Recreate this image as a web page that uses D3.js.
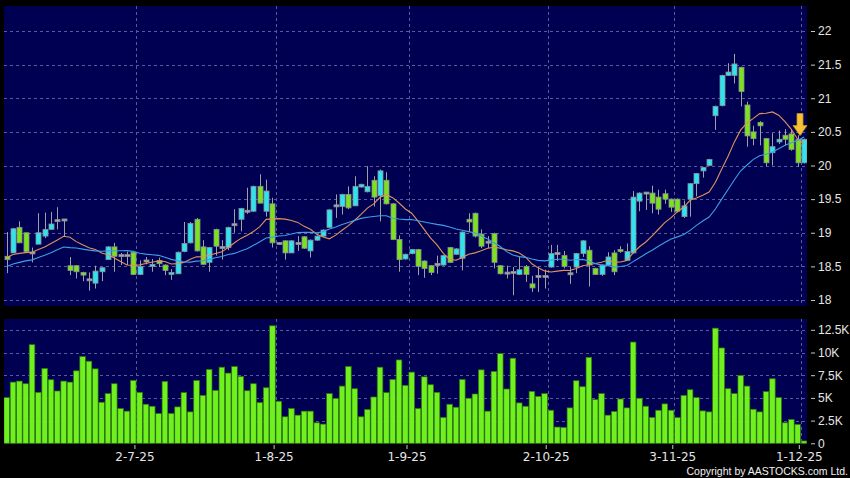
<!DOCTYPE html>
<html><head><meta charset="utf-8">
<script src="https://cdn.jsdelivr.net/npm/d3@7"></script>
<style>html,body{margin:0;padding:0;background:#000;}svg{display:block;}</style>
</head><body>
<svg id="chart" width="850" height="478"></svg>
<script>
// ---- data ----
const opens  = [18.65,18.70,19.08,19.00,18.70,18.83,18.95,19.05,19.18,19.19,18.51,18.51,18.41,18.30,18.25,18.42,18.60,18.79,18.66,18.66,18.71,18.38,18.58,18.50,18.59,18.52,18.38,18.39,18.72,18.85,19.20,18.79,18.56,19.05,18.78,18.78,19.12,19.20,19.32,19.32,19.69,19.32,19.43,18.84,18.88,18.70,18.84,18.94,18.73,18.89,18.95,19.08,19.40,19.39,19.57,19.40,19.68,19.61,19.78,19.55,19.78,19.43,18.90,18.61,18.69,18.75,18.58,18.51,18.53,18.52,18.78,18.68,18.62,19.20,19.29,18.98,18.86,18.99,18.51,18.40,18.41,18.38,18.50,18.24,18.35,18.35,18.49,18.69,18.66,18.39,18.49,18.69,18.74,18.47,18.38,18.52,18.70,18.75,18.59,18.70,19.47,19.59,19.59,19.53,19.58,19.50,19.50,19.24,19.50,19.73,19.92,20.00,20.74,20.89,21.34,21.34,21.46,20.90,20.50,20.64,20.40,20.19,20.35,20.45,20.47,20.39,20.04];
const highs  = [19.01,19.07,19.17,19.00,18.78,19.29,19.30,19.31,19.38,19.20,18.64,18.52,18.42,18.41,18.51,18.49,18.80,18.85,18.70,18.72,18.72,18.59,18.64,18.61,18.63,18.53,18.46,18.72,19.16,19.16,19.22,18.89,18.79,19.06,18.89,19.09,19.35,19.37,19.67,19.70,19.87,19.79,19.52,18.86,18.89,18.89,18.95,18.95,18.90,18.96,19.05,19.35,19.57,19.58,19.69,19.84,19.73,19.99,19.84,19.94,19.90,19.44,18.96,18.69,18.76,18.76,18.59,18.52,18.66,18.67,18.79,18.77,19.02,19.29,19.30,19.05,18.95,19.00,18.52,18.51,18.49,18.64,18.52,18.36,18.49,18.45,18.82,18.82,18.73,18.49,18.70,18.89,18.80,18.48,18.53,18.71,18.74,18.80,18.84,19.62,19.60,19.60,19.70,19.64,19.64,19.51,19.51,19.48,19.74,19.89,19.98,20.10,20.89,21.35,21.52,21.66,21.47,20.95,20.59,20.66,20.41,20.48,20.52,20.54,20.54,20.45,20.40];
const lows   = [18.40,18.70,18.85,18.70,18.56,18.83,18.92,19.05,19.05,18.94,18.37,18.32,18.28,18.14,18.17,18.28,18.60,18.42,18.52,18.52,18.37,18.37,18.53,18.42,18.49,18.37,18.30,18.39,18.71,18.84,18.72,18.53,18.42,18.66,18.60,18.74,19.00,19.02,19.28,19.31,19.44,19.24,18.78,18.82,18.60,18.70,18.73,18.76,18.63,18.88,18.94,19.07,19.22,19.27,19.35,19.40,19.67,19.60,19.39,19.17,19.42,18.89,18.42,18.60,18.68,18.37,18.33,18.37,18.39,18.51,18.55,18.67,18.44,19.01,18.93,18.77,18.77,18.47,18.38,18.32,18.07,18.37,18.27,18.12,18.12,18.17,18.48,18.58,18.47,18.24,18.40,18.64,18.20,18.37,18.36,18.51,18.37,18.70,18.58,18.69,19.32,19.34,19.29,19.27,19.43,19.31,19.30,19.22,19.24,19.54,19.82,19.99,20.53,20.88,21.33,21.22,20.88,20.28,20.30,20.30,19.99,20.00,20.32,20.30,20.22,19.98,20.03];
const closes = [18.60,19.06,18.85,18.72,18.70,19.00,19.05,19.13,19.18,19.19,18.44,18.42,18.37,18.30,18.43,18.48,18.79,18.65,18.66,18.66,18.38,18.50,18.58,18.53,18.54,18.44,18.41,18.71,18.84,19.14,18.73,18.53,18.78,18.80,18.78,19.08,19.12,19.36,19.32,19.69,19.44,19.62,18.85,18.84,18.70,18.88,18.84,18.77,18.89,18.95,19.04,19.34,19.40,19.57,19.37,19.69,19.72,19.69,19.53,19.92,19.43,18.90,18.60,18.68,18.75,18.50,18.47,18.41,18.53,18.66,18.56,18.76,19.01,19.16,18.95,18.80,18.86,18.56,18.39,18.40,18.41,18.45,18.38,18.18,18.35,18.35,18.69,18.69,18.50,18.39,18.69,18.88,18.52,18.38,18.52,18.64,18.42,18.72,18.72,19.53,19.59,19.59,19.44,19.35,19.50,19.38,19.32,19.40,19.73,19.88,19.97,20.09,20.88,21.34,21.39,21.51,21.10,20.44,20.40,20.59,20.04,20.28,20.39,20.39,20.24,20.04,20.39];
const volumes = [5030,6740,6850,6560,10860,5610,8240,7000,5760,6850,6740,7980,9550,9040,8200,4520,5470,6560,3830,3540,6920,5610,4300,4080,3280,6810,3280,4010,5580,3460,6920,5280,8130,5830,8380,7730,8450,7360,5790,6560,4480,6120,12940,4630,2920,3830,3100,3540,3540,2260,2110,5470,4920,6300,8450,6010,2920,3720,5100,8380,5580,7030,9180,6380,7840,3830,7320,6450,5610,2840,4300,3970,7030,4960,5430,8090,3540,7910,9880,5980,9370,4450,4080,5720,5170,5470,3640,1790,1750,3900,6890,6230,9470,4810,5470,3100,3500,4880,3900,11150,4960,4080,2840,3640,4340,3640,2840,5280,5900,5030,3570,3460,12680,10500,6010,5470,7470,6300,3750,3460,5690,7110,5030,2260,2620,2080,260];
// closes before the visible window, estimated from where the moving-average lines start
const priorCloses = [18.30,18.35,18.28,18.40,18.32,18.38,18.35,18.30,18.36,18.62,18.55,18.70,18.60,18.65,18.58,18.68,18.62,18.66,18.63];
const monthTickIndex  = [21,43,64,86,106,126];
const monthTickLabels = ["2-7-25","1-8-25","1-9-25","2-10-25","3-11-25","1-12-25"];
const priceTicks = [18,18.5,19,19.5,20,20.5,21,21.5,22];
const priceTickLabels = ["18","18.5","19","19.5","20","20.5","21","21.5","22"];
const volumeTicks = [0,2500,5000,7500,10000,12500];
const volumeTickLabels = ["0","2.5K","5K","7.5K","10K","12.5K"];
const maPeriods = [10,20];

// ---- layout ----
const W = 850, H = 478;
const plotL = 4, plotR = 807;
const priceTop = 6, priceBot = 306;
const volTop = 319, volBot = 444;
const n = closes.length;
const svg = d3.select('#chart');
svg.append('rect').attr('width',W).attr('height',H).attr('fill','#000');

const x = d3.scaleLinear().domain([0, n-1]).range([6.7, 804.0]);
const dx = x(1) - x(0);
const yP = d3.scaleLinear().domain([18,22]).range([300,31]);
const yV = d3.scaleLinear().domain([0,12500]).range([443.3,329.8]);

const NAVY = '#000052', GRID = '#5a5a98';

svg.append('rect').attr('x',plotL).attr('y',priceTop).attr('width',plotR-plotL).attr('height',priceBot-priceTop).attr('fill',NAVY);
svg.append('rect').attr('x',plotL).attr('y',volTop).attr('width',plotR-plotL).attr('height',volBot-volTop).attr('fill',NAVY);

const defs = svg.append('defs');
defs.append('clipPath').attr('id','cp').append('rect').attr('x',plotL).attr('y',priceTop).attr('width',plotR-plotL).attr('height',priceBot-priceTop);
defs.append('clipPath').attr('id','cv').append('rect').attr('x',plotL).attr('y',volTop).attr('width',plotR-plotL).attr('height',volBot-volTop);

// gridlines
const gridX = monthTickIndex.map(i => Math.round(x(i) - dx/2) + 0.5);
const grid = svg.append('g').attr('stroke',GRID).attr('stroke-width',1).attr('stroke-dasharray','3,3');
grid.selectAll('line.hp').data(priceTicks).join('line')
  .attr('x1',plotL).attr('x2',plotR).attr('y1',d=>Math.round(yP(d))+0.5).attr('y2',d=>Math.round(yP(d))+0.5);
grid.selectAll('line.hv').data(volumeTicks.filter(d=>d>0)).join('line')
  .attr('x1',plotL).attr('x2',plotR).attr('y1',d=>Math.round(yV(d))+0.5).attr('y2',d=>Math.round(yV(d))+0.5);
grid.selectAll('line.vp').data(gridX).join('line')
  .attr('x1',d=>d).attr('x2',d=>d).attr('y1',priceTop).attr('y2',priceBot);
grid.selectAll('line.vv').data(gridX).join('line')
  .attr('x1',d=>d).attr('x2',d=>d).attr('y1',volTop).attr('y2',volBot);

// candles
const idx = d3.range(n);
const cp = svg.append('g').attr('clip-path','url(#cp)');
const UP = '#2ee4ef', DOWN = '#7be21c', DOJI = '#a8a8a8';
cp.selectAll('line.wick').data(idx).join('line')
  .attr('x1',i=>Math.round(x(i))+0.5).attr('x2',i=>Math.round(x(i))+0.5)
  .attr('y1',i=>yP(highs[i])).attr('y2',i=>yP(lows[i]))
  .attr('stroke','#a0a0a0').attr('stroke-width',1);
cp.selectAll('rect.body').data(idx).join('rect')
  .attr('x',i=>Math.round(x(i))-2)
  .attr('y',i=>{const t=yP(Math.max(opens[i],closes[i])), b=yP(Math.min(opens[i],closes[i])); return (b-t<2)?(t+b)/2-1:t;})
  .attr('width',5)
  .attr('height',i=>Math.max(2, yP(Math.min(opens[i],closes[i]))-yP(Math.max(opens[i],closes[i]))))
  .attr('fill',i=>Math.abs(closes[i]-opens[i])<0.005?DOJI:(closes[i]>opens[i]?UP:DOWN))
  .attr('stroke','#8a8f96').attr('stroke-width',0.8);

// moving averages
const all = priorCloses.concat(closes);
const off = priorCloses.length;
const maColors = ['#e0925c','#3d9fe6'];
maPeriods.forEach((p,k)=>{
  const vals = idx.map(i => d3.mean(all.slice(i+off-p+1, i+off+1)));
  cp.append('path').datum(vals)
    .attr('d', d3.line().x((d,i)=>x(i)).y(d=>yP(d)))
    .attr('fill','none').attr('stroke',maColors[k]).attr('stroke-width',1.1);
});

// arrow marker over last bar
const last = n-1;
const ax = x(last) - 4, tip = yP(highs[last]) - 3;
svg.append('path')
  .attr('d', `M${ax-3},${tip-22} L${ax+3},${tip-22} L${ax+3},${tip-10} L${ax+7},${tip-10} L${ax},${tip} L${ax-7},${tip-10} L${ax-3},${tip-10} Z`)
  .attr('fill','#f4c235').attr('stroke','#c8901a').attr('stroke-width',0.8);

// volume bars
const cv = svg.append('g').attr('clip-path','url(#cv)');
cv.selectAll('rect.vol').data(idx).join('rect')
  .attr('x',i=>x(i)-2.8).attr('width',5.6)
  .attr('y',i=>yV(volumes[i])).attr('height',i=>yV(0)-yV(volumes[i]))
  .attr('fill','#70f01e').attr('stroke','#2f7a0c').attr('stroke-width',0.7);

// axes
const FONT = '"Liberation Sans", Arial, sans-serif';
function styleAxis(g){
  g.select('.domain').remove();
  g.selectAll('.tick line').attr('stroke','#c8c8c8');
  g.selectAll('.tick text').attr('fill','#e6e6e6').style('font-family',FONT).style('font-size','12px');
}
svg.append('g').attr('transform','translate(811,0)')
  .call(d3.axisRight(yP).tickValues(priceTicks).tickFormat((d,i)=>priceTickLabels[i]).tickSize(4).tickPadding(3))
  .call(styleAxis);
svg.append('g').attr('transform','translate(811,0)')
  .call(d3.axisRight(yV).tickValues(volumeTicks).tickFormat((d,i)=>volumeTickLabels[i]).tickSize(4).tickPadding(3))
  .call(styleAxis);
const xTickScale = d3.scaleLinear().domain([0,n-1]).range([6.7,804.0]);
svg.append('g').attr('transform','translate(-2,445)')
  .call(d3.axisBottom(xTickScale).tickValues(monthTickIndex.map(i=>i-0.5)).tickFormat((d,i)=>monthTickLabels[i]).tickSize(4).tickPadding(3))
  .call(g=>{styleAxis(g); g.selectAll('.tick text').style('font-family','"DejaVu Sans", sans-serif').style('font-size','12px');});

// copyright: narrow font if available, otherwise smaller regular font
const cr = svg.append('text').attr('x',848).attr('y',475).attr('text-anchor','end')
  .attr('fill','#f0f0f0').style('font-family','"Liberation Sans Narrow"').style('font-size','12.6px')
  .text('Copyright by AASTOCKS.com Ltd.');
if (cr.node().getComputedTextLength() > 168) {
  cr.style('font-family',FONT).style('font-size','10.5px');
}
</script>
</body></html>
